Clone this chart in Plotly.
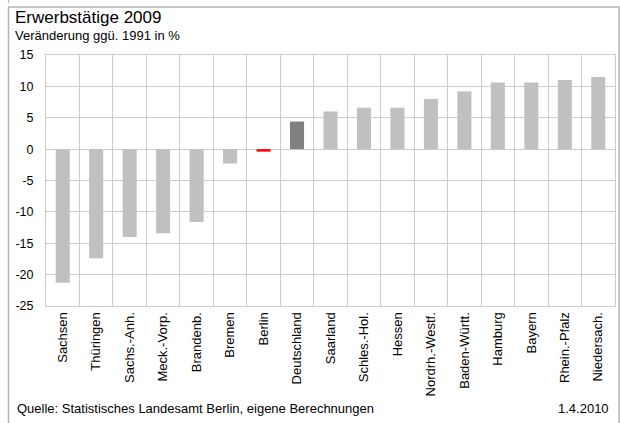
import plotly.graph_objects as go

categories = ["Sachsen", "Thüringen", "Sachs.-Anh.", "Meck.-Vorp.", "Brandenb.", "Bremen",
              "Berlin", "Deutschland", "Saarland", "Schles.-Hol.", "Hessen", "Nordrh.-Westf.",
              "Baden-Württ.", "Hamburg", "Bayern", "Rhein.-Pfalz", "Niedersach."]
values = [-21.3, -17.4, -14.0, -13.4, -11.6, -2.3, -0.4, 4.4, 6.0, 6.6, 6.6, 8.0,
          9.2, 10.6, 10.6, 11.0, 11.5]
y_ticks = [15, 10, 5, 0, -5, -10, -15, -20, -25]

GRAY = "#c0c0c0"
colors = []
for c in categories:
    if c == "Berlin":
        colors.append("#ff0000")
    elif c == "Deutschland":
        colors.append("#808080")
    else:
        colors.append(GRAY)

W, H = 620, 423
L, R, T, B = 46, 615, 55, 306

def px(x):
    return (x - L) / (R - L)

def py(y):
    return (B - y) / (B - T)

FONT = "Liberation Sans, Arial, sans-serif"
GRID = "#cccccc"

fig = go.Figure(go.Bar(x=categories, y=values, marker=dict(color=colors, line=dict(width=0)),
                       hoverinfo="x+y"))

fig.update_layout(
    width=W, height=H,
    margin=dict(l=L, r=W - R, t=T, b=H - B, pad=0),
    paper_bgcolor="white", plot_bgcolor="white",
    bargap=0.58, showlegend=False,
    font=dict(family=FONT, color="#000000"),
)
fig.update_xaxes(
    type="category", tickson="boundaries", showgrid=True, gridcolor=GRID, gridwidth=1,
    showline=True, linecolor=GRID, linewidth=1, mirror=True,
    ticks="outside", ticklen=7, tickcolor="rgba(0,0,0,0)",
    tickangle=-90, tickfont=dict(size=13, family=FONT, color="#000"),
    fixedrange=True,
)
fig.update_yaxes(
    range=[-25, 15], tickvals=y_ticks, ticktext=[str(v) for v in y_ticks],
    showgrid=True, gridcolor=GRID, gridwidth=1,
    zeroline=True, zerolinecolor=GRID, zerolinewidth=1,
    showline=True, linecolor=GRID, linewidth=1, mirror=True,
    ticks="outside", ticklen=9, tickcolor="rgba(0,0,0,0)",
    tickfont=dict(size=12.5, family=FONT, color="#000"),
    fixedrange=True,
)

# outer frame
fig.add_shape(type="rect", xref="paper", yref="paper",
              x0=px(8.5), x1=px(619), y0=py(430), y1=py(7),
              line=dict(color="#b4b4b4", width=1.5), fillcolor="rgba(0,0,0,0)", layer="below")
fig.add_shape(type="line", xref="paper", yref="paper",
              x0=px(8.5), x1=px(8.5), y0=py(3), y1=py(0),
              line=dict(color="#b4b4b4", width=1))

fig.add_annotation(text="Erwerbstätige 2009", xref="paper", yref="paper",
                   x=px(13), y=py(18), xanchor="left", yanchor="middle",
                   showarrow=False, font=dict(size=17, family=FONT, color="#000"))
fig.add_annotation(text="Veränderung ggü. 1991 in %", xref="paper", yref="paper",
                   x=px(13), y=py(35), xanchor="left", yanchor="middle",
                   showarrow=False, font=dict(size=13, family=FONT, color="#000"))
fig.add_annotation(text="Quelle: Statistisches Landesamt Berlin, eigene Berechnungen",
                   xref="paper", yref="paper", x=px(15), y=py(408),
                   xanchor="left", yanchor="middle", showarrow=False,
                   font=dict(size=13, family=FONT, color="#000"))
fig.add_annotation(text="1.4.2010", xref="paper", yref="paper", x=px(611), y=py(408),
                   xanchor="right", yanchor="middle", showarrow=False,
                   font=dict(size=13, family=FONT, color="#000"))

fig.write_html("out.html", config={"displayModeBar": False})

with open("out.html", "r", encoding="utf-8") as f:
    html = f.read()
html = html.replace("<head>", "<head><style>html,body{margin:0;padding:0;overflow:hidden;}</style>", 1)
with open("out.html", "w", encoding="utf-8") as f:
    f.write(html)
